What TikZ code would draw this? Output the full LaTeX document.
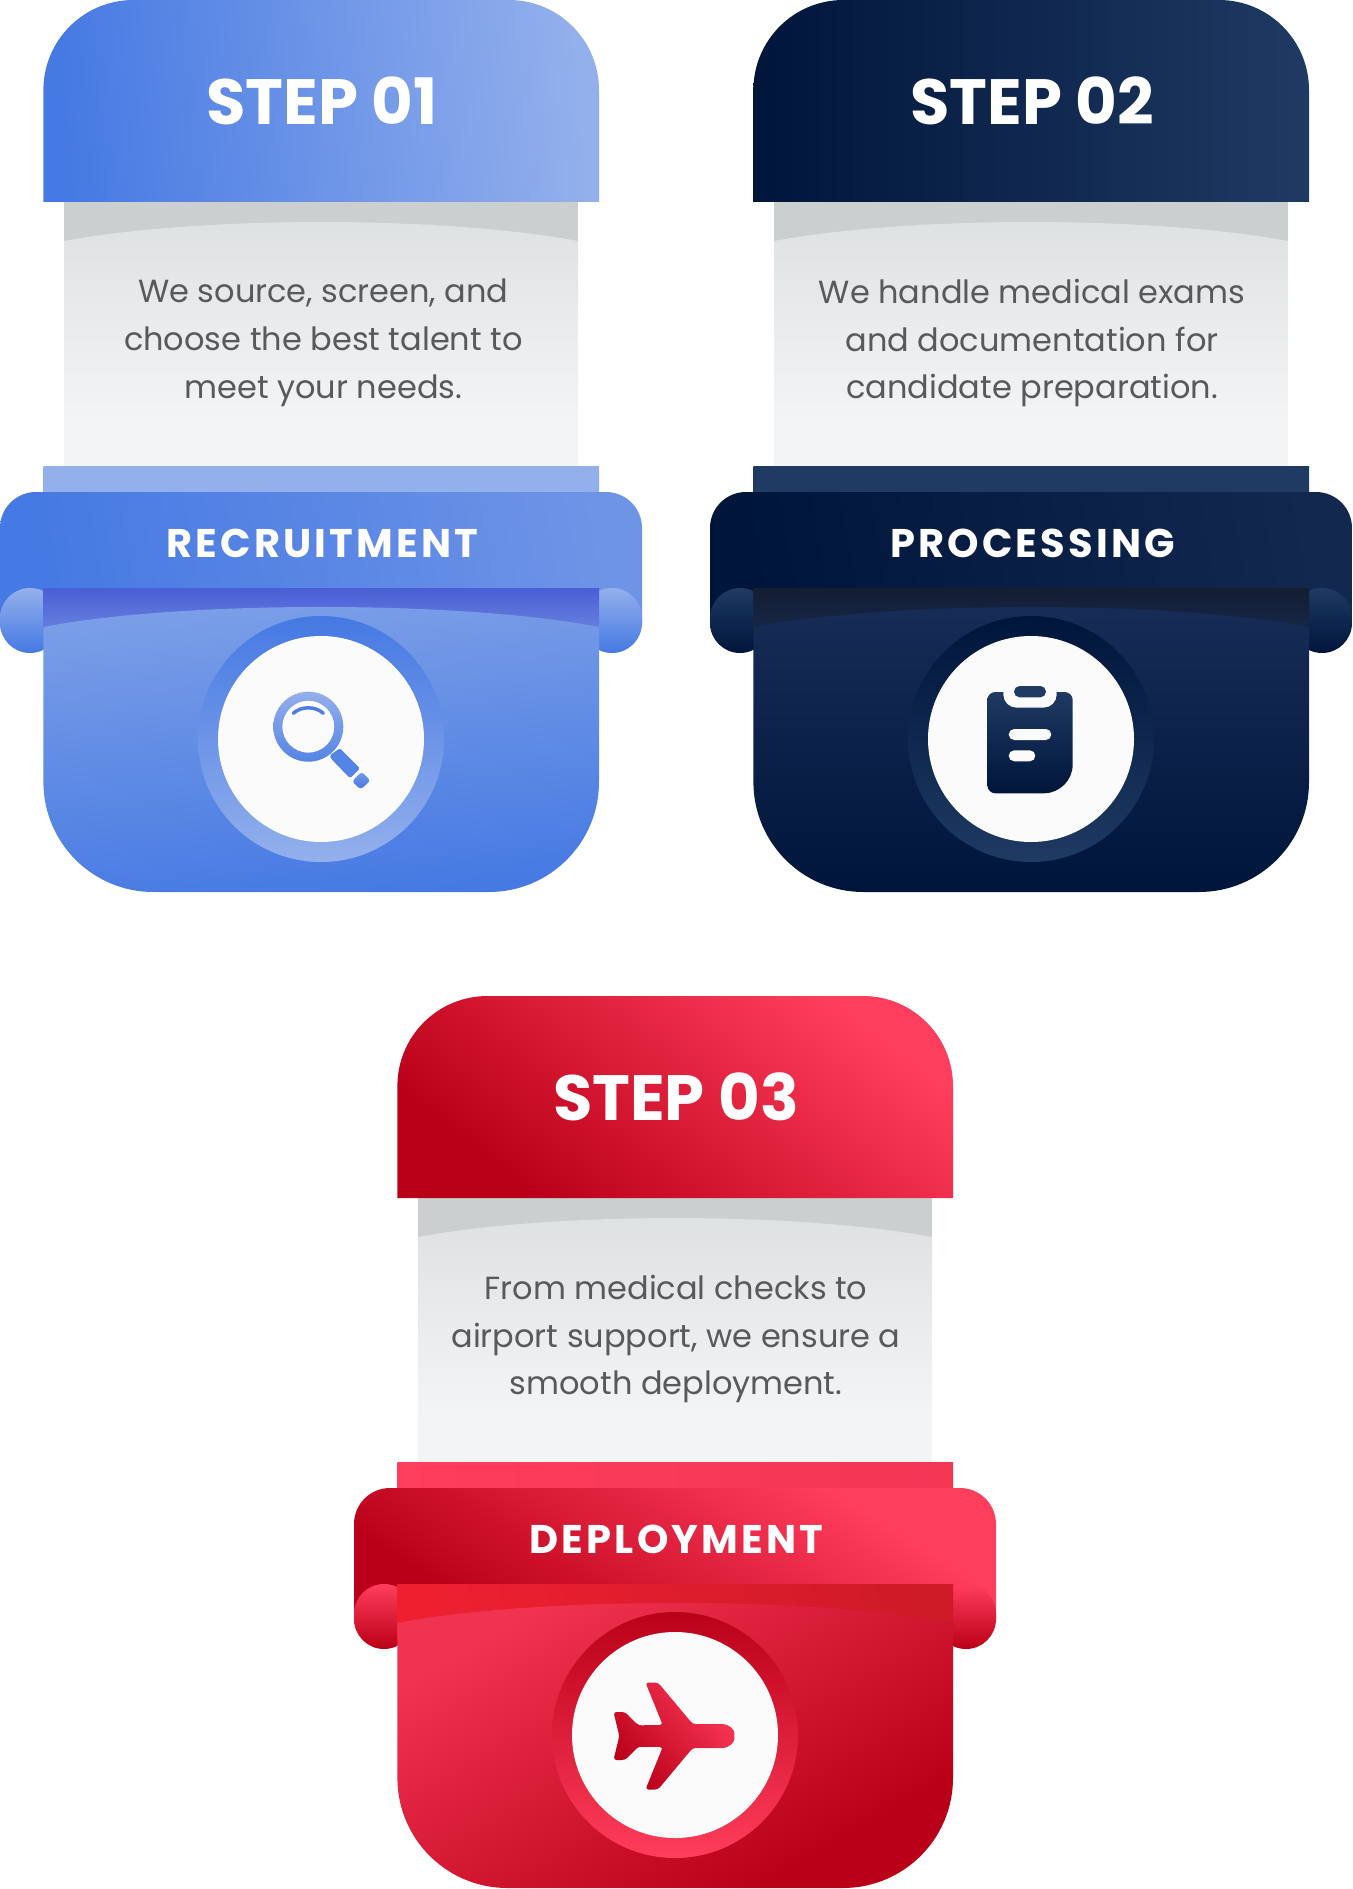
\documentclass[tikz,border=0pt]{standalone}
\usepackage{fontspec}
\setmainfont{Poppins}
\newfontfamily\labelfont[LetterSpace=8]{Poppins}
\usepackage{tikz}

\definecolor{blueDark}{HTML}{4579E3}
\definecolor{blueLight}{HTML}{94B0EC}
\definecolor{blueRib}{HTML}{6E94E6}
\definecolor{blueMid}{HTML}{7C9FE7}
\definecolor{blueBand}{HTML}{4A5ED6}
\definecolor{blueBandEnd}{HTML}{6F88DF}
\definecolor{blueStrip}{HTML}{94B0EC}
\definecolor{navyDark}{HTML}{00153A}
\definecolor{navyLight}{HTML}{1F3A63}
\definecolor{navyRib}{HTML}{12284F}
\definecolor{navyMid}{HTML}{172D57}
\definecolor{navyBand}{HTML}{141E33}
\definecolor{navyBandEnd}{HTML}{16284A}
\definecolor{navyStrip}{HTML}{1F3A63}
\definecolor{redDark}{HTML}{BA0018}
\definecolor{redLight}{HTML}{FF3D5C}
\definecolor{redMid}{HTML}{F03350}
\definecolor{redBand}{HTML}{EE2030}
\definecolor{redBandEnd}{HTML}{CF1A28}
\definecolor{redStrip}{HTML}{F23654}
\definecolor{bandGrey}{HTML}{CBCFD0}
\definecolor{paperTop}{HTML}{DEE1E2}
\definecolor{paperEnd}{HTML}{F3F4F6}
\definecolor{bodyText}{HTML}{58595B}
\definecolor{faceWhite}{HTML}{FBFBFB}

\pgfdeclarehorizontalshading{redheadfade}{100bp}{color(0bp)=(redDark); color(27bp)=(redDark); color(74bp)=(redLight); color(100bp)=(redLight)}
\pgfdeclarehorizontalshading{redribfade}{100bp}{color(0bp)=(redDark); color(27bp)=(redDark); color(71bp)=(redLight); color(100bp)=(redLight)}
\pgfdeclarehorizontalshading{redbodyfade}{100bp}{color(0bp)=(redMid); color(26bp)=(redMid); color(72bp)=(redDark); color(100bp)=(redDark)}

% shift, colour, title, label, text, icon
\newcommand{\stepcard}[6]{
	\begin{scope}[shift={#1},name prefix=#2-]
		\fill[bandGrey] (64,202) rectangle (578,260);
		\shade[top color=paperTop,bottom color=paperEnd] (64,241) .. controls (200,215.7) and (442,215.7) .. (578,241) -- (578,420) -- (64,420) -- cycle;
		\fill[paperEnd] (64,419.5) rectangle (578,466);
		\shade[#2head] (43.4,202) -- (43.4,90) .. controls (43.4,40.3) and (83.7,0) .. (133.4,0) -- (509,0) .. controls (558.7,0) and (599,40.3) .. (599,90) -- (599,202) -- cycle;
		\shade[left color=#2Light,right color=#2Strip] (43.4,466) rectangle (599,500);
		\shade[#2rib] (0,625) -- (0,528) .. controls (0,508.1) and (16.1,492) .. (36,492) -- (606,492) .. controls (625.9,492) and (642,508.1) .. (642,528) -- (642,625) -- cycle;
		\shade[curl,top color=#2Light,bottom color=#2Dark] (0,588) rectangle (60,653);
		\shade[curl,top color=#2Light,bottom color=#2Dark] (582,588) rectangle (642,653);
		\shade[#2band] (43.4,588) rectangle (599,640);
		\shade[#2body] (43.4,627) .. controls (180,600.3) and (462,600.3) .. (599,627) -- (599,782) .. controls (599,842.75) and (549.75,892) .. (489,892) -- (153.4,892) .. controls (92.65,892) and (43.4,842.75) .. (43.4,782) -- cycle;
		\shade[top color=#2Dark,bottom color=#2Light] (321,739) circle (123pt);
		\fill[faceWhite] (321,739) circle (103pt);
		\node[titletext] (title) at (322,124.5) {#3};
		\node[labeltext] (label) at (322.5,557.3) {#4};
		\node[bodytext,#2text] (text) at (322,343) {#5};
		#6
	\end{scope}
}

\newcommand{\iconsearch}{
	\shade[top color=blueLight,bottom color=blueDark!80!blueLight,even odd rule] (308.3,726.7) circle (35pt) (308.3,726.7) circle (26pt);
	\draw[blueDark!90!blueLight,line width=3.5pt,line cap=round] (293.3,713.3) .. controls (301,706) and (315.6,706) .. (323.3,713.3);
	\fill[blueDark!92!white,rounded corners=1.5pt] (330,755) -- (340,748.3) -- (360,768.3) -- (350,778.3) -- (330.7,758.3) -- cycle;
	\shade[top color=blueLight!60!blueDark,bottom color=blueDark,rounded corners=3pt] (361.7,771.7) -- (370.5,780.5) -- (360.7,789.5) -- (352,781.5) -- cycle;
}

\newcommand{\iconclip}{
	\shade[top color=navyLight,bottom color=navyDark] (293.3,692) -- (293.3,694.7) .. controls (293.3,701.9) and (299.1,707.7) .. (306.3,707.7) -- (333.7,707.7) .. controls (340.9,707.7) and (346.7,701.9) .. (346.7,694.7) -- (346.7,692) -- (354.7,692) .. controls (359.1,692) and (362.7,695.6) .. (362.7,700) -- (362.7,764.3) .. controls (362.7,780.3) and (349.7,793.3) .. (333.7,793.3) -- (285.3,793.3) .. controls (280.9,793.3) and (277.3,789.7) .. (277.3,785.3) -- (277.3,700) .. controls (277.3,695.6) and (280.9,692) .. (285.3,692) -- cycle;
	\fill[navyLight,rounded corners=5.6pt] (304,686) rectangle (336,697.3);
	\fill[faceWhite,rounded corners=5.5pt] (298.7,729) rectangle (341.3,740);
	\fill[faceWhite,rounded corners=5.5pt] (298.7,750.3) rectangle (325.3,761.3);
}

\newcommand{\iconplane}{
	\shade[left color=redDark,right color=redLight!92!redDark,shading angle=130,rounded corners=3pt] (380.3,740) .. controls (380.3,734) and (376,728) .. (364.3,728) -- (338.7,728) -- (304,686.5) -- (291.5,686.5) -- (308.7,729) -- (284.3,729.3) -- (271,716) -- (259.5,716) -- (265.3,740) -- (259.5,764) -- (271,764) -- (284.3,750.7) -- (308.7,751) -- (291.5,793.5) -- (304,793.5) -- (338.7,752) -- (364.3,752) .. controls (376,752) and (380.3,746) .. (380.3,740) -- cycle;
}

\begin{document}
\begin{tikzpicture}[x=1pt,y=-1pt]
	\tikzstyle{curl}=[rounded corners=30pt]
	\tikzstyle{titletext}=[anchor=base,text=white,font=\fontsize{64}{64}\selectfont\bfseries]
	\tikzstyle{labeltext}=[anchor=base,text=white,font=\fontsize{40}{40}\selectfont\labelfont\bfseries]
	\tikzstyle{bodytext}=[align=center,text=bodyText,font=\fontsize{32}{47.8}\selectfont]
	\tikzstyle{bluehead}=[left color=blueDark,right color=blueLight,shading angle=95]
	\tikzstyle{bluerib}=[left color=blueDark,right color=blueRib,shading angle=100]
	\tikzstyle{blueband}=[top color=blueBand,bottom color=blueBandEnd]
	\tikzstyle{bluebody}=[top color=blueMid,bottom color=blueDark,shading angle=5]
	\tikzstyle{bluetext}=[xshift=1.4pt]
	\tikzstyle{navyhead}=[left color=navyDark,right color=navyLight]
	\tikzstyle{navyrib}=[left color=navyDark,right color=navyRib,shading angle=100]
	\tikzstyle{navyband}=[top color=navyBand,bottom color=navyBandEnd]
	\tikzstyle{navybody}=[top color=navyMid,bottom color=navyDark]
	\tikzstyle{navytext}=[]
	\tikzstyle{redhead}=[shading=redheadfade,shading angle=52]
	\tikzstyle{redrib}=[shading=redribfade,shading angle=58]
	\tikzstyle{redband}=[left color=redBand,right color=redBandEnd,shading angle=100]
	\tikzstyle{redbody}=[shading=redbodyfade,shading angle=-60]
	\tikzstyle{redtext}=[]
	
	\useasboundingbox (0,0) rectangle (1352,1889);
	
	\stepcard{(0,0)}{blue}{STEP 01}{RECRUITMENT}{We source, screen, and\\choose the best talent to\\meet your needs.}{\iconsearch}
	\stepcard{(710,0)}{navy}{STEP 02}{PROCESSING}{We handle medical exams\\and documentation for\\candidate preparation.}{\iconclip}
	\stepcard{(354,996)}{red}{STEP 03}{DEPLOYMENT}{From medical checks to\\airport support, we ensure a\\smooth deployment.}{\iconplane}
\end{tikzpicture}
\end{document}
